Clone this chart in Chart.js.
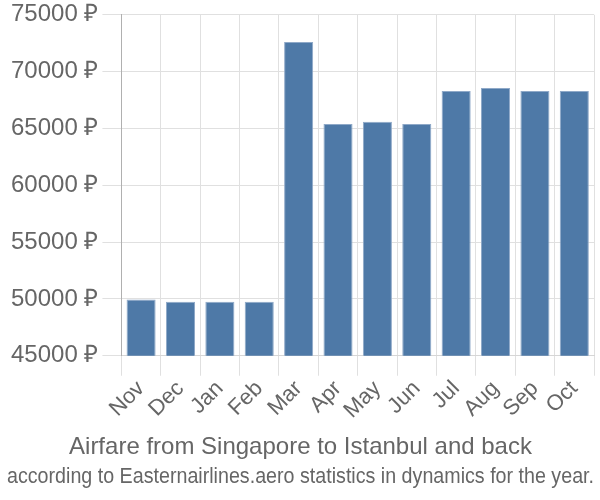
<!DOCTYPE html>
<html>
<head>
<meta charset="utf-8">
<script src="https://cdn.jsdelivr.net/npm/chart.js@4/dist/chart.umd.min.js"></script>
<style>
html,body{margin:0;padding:0;background:#fff;}
#wrap{width:600px;height:500px;}
</style>
</head>
<body>
<div id="wrap"><canvas id="c" width="600" height="500"></canvas></div>
<script>
const months = ["Nov","Dec","Jan","Feb","Mar","Apr","May","Jun","Jul","Aug","Sep","Oct"];
const prices = [49950,49750,49750,49750,72600,65400,65600,65400,68300,68550,68300,68300];
const yTicks = [45000,50000,55000,60000,65000,70000,75000];
const titleText = "Airfare from Singapore to Istanbul and back";
const subtitleText = "according to Easternairlines.aero statistics in dynamics for the year.";

new Chart(document.getElementById('c'), {
  type: 'bar',
  data: {
    labels: months,
    datasets: [{
      data: prices,
      backgroundColor: '#4e79a7',
      borderColor: '#8fa9c8',
      borderWidth: 1,
      barPercentage: 0.9,
      categoryPercentage: 0.82
    }]
  },
  options: {
    responsive: false,
    animation: false,
    devicePixelRatio: 1,
    layout: { padding: { left: 7, right: 6, top: 0, bottom: 0 } },
    plugins: {
      legend: { display: false },
      tooltip: { enabled: false },
      title: {
        display: true, text: titleText, position: 'bottom', weight: 1000,
        color: '#666', font: { family: 'Liberation Sans', size: 24, weight: 'normal', lineHeight: 1.2 },
        padding: { top: 9, bottom: 0 }
      },
      subtitle: {
        display: true, text: subtitleText, position: 'bottom', weight: 2000,
        color: '#666', font: { family: 'Liberation Sans', size: 22, weight: 'normal', lineHeight: 1.2 },
        padding: { top: 2, bottom: 10 }
      }
    },
    scales: {
      x: {
        grid: { color: '#e0e0e0', lineWidth: 1, tickLength: 20, offset: true },
        border: { color: '#d6d6d6' },
        ticks: { color: '#666', font: { family: 'Liberation Sans', size: 22 }, minRotation: 45, maxRotation: 45, padding: 0, autoSkip: false }
      },
      y: {
        min: 45000, max: 75000,
        afterBuildTicks: (s) => { s.ticks = yTicks.map(v => ({ value: v })); },
        grid: { color: '#e0e0e0', lineWidth: 1, tickLength: 19 },
        border: { color: '#b0b0b0' },
        ticks: { color: '#666', font: { family: 'Liberation Sans', size: 24, lineHeight: 0.9 }, padding: 4,
          callback: (v) => v + ' ₽' }
      }
    }
  }
});
</script>
</body>
</html>
